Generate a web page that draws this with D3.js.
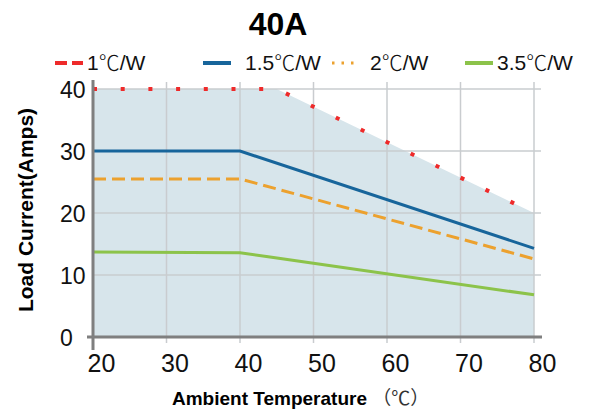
<!DOCTYPE html>
<html>
<head>
	<meta charset="utf-8">
	<title>40A derating</title>
	<style>
		body { margin: 0; background: #fff; }
		text { font-family: "Liberation Sans", Arial, "DejaVu Sans", "Noto Sans CJK SC", sans-serif; }
	</style>
</head>
<body>
<script src="https://cdn.jsdelivr.net/npm/d3@7"></script>
<script>
	// 数据
	const tempTicks = [20, 30, 40, 50, 60, 70, 80]
	const loadTicks = [0, 10, 20, 30, 40]
	const seriesNames = ["1℃/W", "1.5℃/W", "2℃/W", "3.5℃/W"]
	// 各条曲线的拐点（温度, 电流）
	const temp1 = [20, 45, 80], load1 = [40, 40, 20]
	const temp15 = [20, 40, 80], load15 = [30, 30, 14.3]
	const temp2 = [20, 40, 80], load2 = [25.5, 25.5, 12.6]
	const temp35 = [20, 40, 80], load35 = [13.7, 13.6, 6.8]

	const zip = (xs, ys) => xs.map((x, i) => ({x: x, y: ys[i]}))

	const width = 590, height = 414
	const svg = d3.select("body").append("svg")
		.attr("width", width)
		.attr("height", height)

	// 比例尺
	const scX = d3.scaleLinear().domain([20, 80]).range([93, 534])
	const scY = d3.scaleLinear().domain([0, 40]).range([337, 89])

	// 背景填充（1℃/W 曲线下方）
	const area = d3.area()
		.x(d => scX(d.x))
		.y0(scY(0))
		.y1(d => scY(d.y))
	svg.append("path")
		.attr("fill", "#d7e5eb")
		.attr("d", area(zip(temp1, load1)))

	// 网格线
	svg.append("g").selectAll("line")
		.data(tempTicks.slice(1)).enter()
		.append("line")
			.attr("x1", d => scX(d)).attr("x2", d => scX(d))
			.attr("y1", scY(40) - 7).attr("y2", scY(0) + 6)
			.attr("stroke", "#c9cccf").attr("stroke-width", 1.5)
	svg.append("g").selectAll("line")
		.data(loadTicks.slice(1)).enter()
		.append("line")
			.attr("x1", scX(20)).attr("x2", scX(80) + 7)
			.attr("y1", d => scY(d)).attr("y2", d => scY(d))
			.attr("stroke", "#c9cccf").attr("stroke-width", 1.5)

	// 曲线
	const line = d3.line().x(d => scX(d.x)).y(d => scY(d.y))
	const styles = [
		{data: zip(temp1, load1), color: "#ee2a2a", width: 4, dash: "4,23.7"},
		{data: zip(temp15, load15), color: "#17659b", width: 3, dash: null},
		{data: zip(temp2, load2), color: "#eca12e", width: 3, dash: "13,6"},
		{data: zip(temp35, load35), color: "#8cc34a", width: 3, dash: null}
	]
	styles.forEach(s => {
		svg.append("path")
			.attr("fill", "none")
			.attr("stroke", s.color)
			.attr("stroke-width", s.width)
			.attr("stroke-dasharray", s.dash)
			.attr("d", line(s.data))
	})

	// 坐标轴线
	svg.append("line")
		.attr("x1", scX(20)).attr("x2", scX(20))
		.attr("y1", scY(40) - 9).attr("y2", scY(0) + 13)
		.attr("stroke", "#7f7f7f").attr("stroke-width", 3)
	svg.append("line")
		.attr("x1", scX(20) - 6).attr("x2", scX(80) + 8)
		.attr("y1", scY(0)).attr("y2", scY(0))
		.attr("stroke", "#7f7f7f").attr("stroke-width", 3)

	// 刻度文字
	const axY = svg.append("g")
		.attr("transform", `translate(${scX(20)}, 0)`)
		.call(d3.axisLeft(scY).tickValues(loadTicks).tickSize(0))
	axY.select(".domain").remove()
	axY.selectAll("text")
		.attr("x", -33).attr("dy", "0.36em")
		.attr("text-anchor", "start")
		.attr("font-size", 23).attr("fill", "#111")
		.style("font-family", "'Liberation Sans', Arial, sans-serif")

	const axX = svg.append("g")
		.attr("transform", `translate(0, ${scY(0)})`)
		.call(d3.axisBottom(scX).tickValues(tempTicks).tickSize(0))
	axX.select(".domain").remove()
	axX.selectAll("text")
		.attr("x", 8).attr("y", 35).attr("dy", 0)
		.attr("font-size", 25).attr("fill", "#111")
		.style("font-family", "'Liberation Sans', Arial, sans-serif")

	// 标题
	svg.append("text")
		.attr("x", 278).attr("y", 35)
		.attr("text-anchor", "middle")
		.attr("font-size", 32).attr("font-weight", "bold")
		.text("40A")

	// 轴标题
	svg.append("text")
		.attr("transform", "translate(33, 210) rotate(-90)")
		.attr("text-anchor", "middle")
		.attr("font-size", 21).attr("font-weight", "bold")
		.text("Load Current(Amps)")

	const xTitle = svg.append("text")
		.attr("x", 172).attr("y", 405)
		.attr("font-size", 19)
	xTitle.append("tspan").attr("font-weight", "bold").text("Ambient Temperature ")
	xTitle.append("tspan").attr("font-size", 19).attr("fill", "#333")
		.style("font-family", "'Noto Sans CJK SC', sans-serif").text("（℃）")

	// 图例
	const legendX = [55, 203, 332, 465]
	const legendText = [87, 245, 370, 497]
	const legendDash = ["12,5", null, "2.5,7", null]
	const legend = svg.append("g")
	seriesNames.forEach((name, i) => {
		legend.append("line")
			.attr("x1", legendX[i]).attr("x2", legendX[i] + 28)
			.attr("y1", 63).attr("y2", 63)
			.attr("stroke", styles[i].color)
			.attr("stroke-width", i == 2 ? 3 : 4)
			.attr("stroke-dasharray", legendDash[i])
		const t = legend.append("text")
			.attr("x", legendText[i]).attr("y", 70)
			.attr("font-size", 21).attr("fill", "#111")
		const parts = name.split("℃")
		t.append("tspan").text(parts[0])
		t.append("tspan")
			.style("font-family", "'Noto Sans CJK SC', sans-serif")
			.attr("font-weight", 300)
			.text("℃")
		t.append("tspan").text(parts[1])
	})
</script>
</body>
</html>
